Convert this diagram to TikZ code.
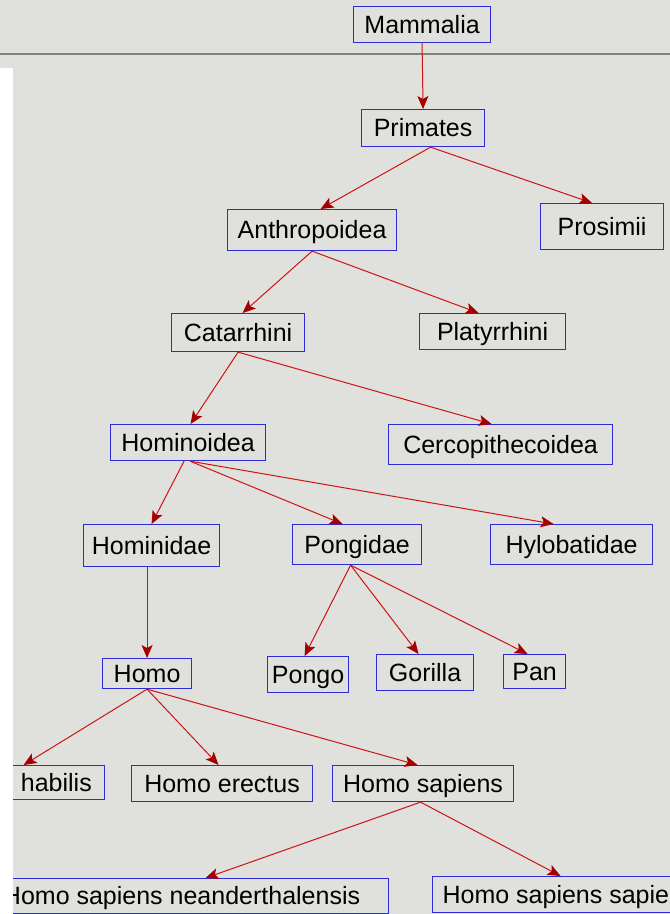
\documentclass[tikz,border=0pt]{standalone}
\usepackage{fontspec}
\setmainfont{Liberation Sans}
\usetikzlibrary{arrows.meta}
\definecolor{bgc}{RGB}{224,224,220}
\definecolor{boxc}{RGB}{45,45,215}
\definecolor{edgec}{RGB}{205,20,20}
\definecolor{tipc}{RGB}{165,0,0}
\definecolor{sepc}{RGB}{130,130,130}
\newcommand\taxon[6]{\node[taxbox, minimum width={#4-#2}, minimum height={#5-#3}, anchor=north west] (#1) at (#2,#3) {#6};}
\tikzset{
  taxbox/.style={draw=boxc, line width=1.15pt, rectangle, inner sep=0pt, text height=17.5pt, text depth=0pt,
     font=\fontsize{25}{30}\selectfont},
  edge/.style={draw=edgec, line width=1pt, -{Stealth[length=13pt, width=11pt, inset=3pt, color=tipc]}},
}
\begin{document}
\begin{tikzpicture}[x=1pt, y=-1pt]
\useasboundingbox (0,0) rectangle (670,914);
\clip (0,0) rectangle (670,914);
\fill[bgc] (0,0) rectangle (670,914);
\draw[sepc, line width=1.3pt] (0,54) -- (670,54);

\taxon{mam}{353}{6}{490}{42}{Mammalia}
\taxon{pri}{361}{109}{484}{146}{Primates}
\taxon{pro}{540}{203}{663}{249}{Prosimii}
\taxon{ant}{227}{209}{396}{250}{Anthropoidea}
\taxon{cat}{171}{313}{304}{351}{Catarrhini}
\taxon{pla}{419}{313}{565}{349}{Platyrrhini}
\taxon{hoi}{110}{424}{265}{460}{Hominoidea}
\taxon{cer}{388}{424}{612}{464}{Cercopithecoidea}
\taxon{hod}{83}{524}{219}{566}{Hominidae}
\taxon{pon}{292}{524}{421}{564}{Pongidae}
\taxon{hyl}{490}{524}{652}{564}{Hylobatidae}
\taxon{homo}{102}{658}{191}{688}{Homo}
\taxon{pgo}{267}{656}{348}{692}{Pongo}
\taxon{gor}{376}{654}{473}{690}{Gorilla}
\taxon{pan}{503}{654}{565}{688}{Pan}
\taxon{hab}{-66}{765}{104}{799}{Homo habilis}
\taxon{ere}{131}{765}{312}{801}{Homo erectus}
\taxon{sap}{332}{765}{513}{801}{Homo sapiens}
\taxon{nea}{-26}{878}{388}{913}{Homo sapiens neanderthalensis}
\taxon{ss}{432}{876}{705}{912}{Homo sapiens sapiens}

\draw[edge] (mam.south) -- (pri.north);
\draw[edge] ([xshift=7.5]pri.south) -- ([xshift=8.5]ant.north);
\draw[edge] ([xshift=7.5]pri.south) -- ([xshift=-10]pro.north);
\draw[edge] (ant.south) -- ([xshift=4.5]cat.north);
\draw[edge] (ant.south) -- ([xshift=-14]pla.north);
\draw[edge] (cat.south) -- ([xshift=2.5]hoi.north);
\draw[edge] (cat.south) -- ([xshift=-9]cer.north);
\draw[edge] ([xshift=-4]hoi.south) -- (hod.north);
\draw[edge] ([xshift=2]hoi.south) -- ([xshift=-14.5]pon.north);
\draw[edge] ([xshift=2]hoi.south) -- ([xshift=-18]hyl.north);
\draw[edge] (homo.north |- hod.south) -- (homo.north);
\draw[edge] ([xshift=-6.5]pon.south) -- ([xshift=-3.5]pgo.north);
\draw[edge] ([xshift=-6.5]pon.south) -- ([xshift=-6.5]gor.north);
\draw[edge] ([xshift=-6.5]pon.south) -- ([xshift=-7]pan.north);
\draw[edge] (homo.south) -- ([xshift=4]hab.north);
\draw[edge] (homo.south) -- ([xshift=-3.5]ere.north);
\draw[edge] (homo.south) -- ([xshift=-5.5]sap.north);
\draw[edge] ([xshift=-2.5]sap.south) -- ([xshift=24]nea.north);
\draw[edge] ([xshift=-2.5]sap.south) -- ([xshift=-8.5]ss.north);

\fill[white] (0,68) rectangle (13,914);
\end{tikzpicture}
\end{document}
